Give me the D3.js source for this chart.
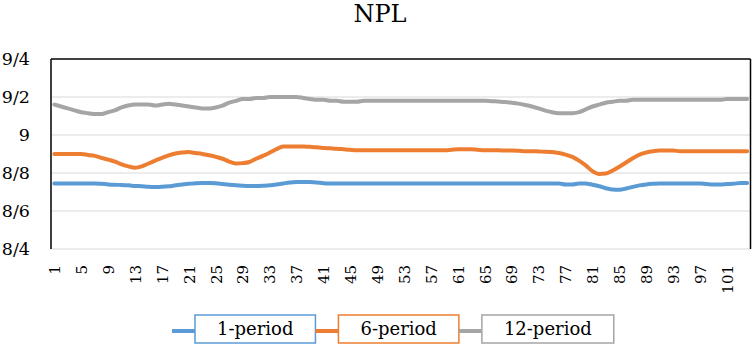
<!DOCTYPE html>
<html>
<head>
<meta charset="utf-8">
<script src="https://cdn.jsdelivr.net/npm/d3@7"></script>
<style>
  html, body { margin: 0; padding: 0; background: #fff; }
  svg { display: block; }
</style>
</head>
<body>
<svg id="chart" width="754" height="346"></svg>
<script>
const title = "NPL";
const seriesNames = ["1-period", "6-period", "12-period"];
const seriesColors = ["#5B9BD5", "#ED7D31", "#A5A5A5"];
const yTicks = [8.4, 8.6, 8.8, 9.0, 9.2, 9.4];
const yTickLabels = ["8/4", "8/6", "8/8", "9", "9/2", "9/4"];

const period1 = [
  8.745, 8.745, 8.745, 8.745, 8.745, 8.745, 8.745, 8.743, 8.740, 8.738,
  8.737, 8.735, 8.732, 8.730, 8.727, 8.726, 8.727, 8.730, 8.735, 8.740,
  8.743, 8.746, 8.747, 8.747, 8.746, 8.742, 8.738, 8.735, 8.733, 8.732,
  8.732, 8.733, 8.735, 8.740, 8.745, 8.750, 8.752, 8.752, 8.752, 8.750,
  8.746, 8.745, 8.745, 8.745, 8.745, 8.745, 8.745, 8.745, 8.745, 8.745,
  8.745, 8.745, 8.745, 8.745, 8.745, 8.745, 8.745, 8.745, 8.745, 8.745,
  8.745, 8.745, 8.745, 8.745, 8.745, 8.745, 8.745, 8.745, 8.745, 8.745,
  8.745, 8.745, 8.745, 8.745, 8.745, 8.745, 8.740, 8.740, 8.745, 8.745,
  8.738, 8.730, 8.720, 8.713, 8.712, 8.718, 8.727, 8.735, 8.740, 8.743,
  8.745, 8.745, 8.745, 8.745, 8.745, 8.745, 8.745, 8.742, 8.740, 8.740,
  8.742, 8.744, 8.747, 8.747
];

const period6 = [
  8.900, 8.900, 8.900, 8.900, 8.900, 8.895, 8.890, 8.880, 8.870, 8.860,
  8.845, 8.835, 8.828, 8.835, 8.850, 8.865, 8.880, 8.893, 8.903, 8.908,
  8.910, 8.905, 8.900, 8.893, 8.885, 8.875, 8.860, 8.850, 8.852, 8.858,
  8.875, 8.890, 8.907, 8.925, 8.940, 8.940, 8.940, 8.940, 8.938, 8.935,
  8.932, 8.930, 8.928, 8.925, 8.922, 8.920, 8.920, 8.920, 8.920, 8.920,
  8.920, 8.920, 8.920, 8.920, 8.920, 8.920, 8.920, 8.920, 8.920, 8.922,
  8.925, 8.925, 8.925, 8.922, 8.920, 8.920, 8.920, 8.918, 8.918, 8.917,
  8.915, 8.915, 8.913, 8.912, 8.910, 8.905, 8.897, 8.885, 8.865, 8.840,
  8.810, 8.795, 8.797, 8.813, 8.833, 8.855, 8.878, 8.897, 8.908, 8.915,
  8.918, 8.918, 8.918, 8.915, 8.915, 8.915, 8.915, 8.915, 8.915, 8.915,
  8.915, 8.915, 8.915, 8.915
];

const period12 = [
  9.160, 9.150, 9.140, 9.130, 9.120, 9.115, 9.110, 9.110, 9.120, 9.130,
  9.145, 9.155, 9.160, 9.160, 9.160, 9.155, 9.160, 9.165, 9.160, 9.155,
  9.150, 9.145, 9.140, 9.140, 9.145, 9.155, 9.170, 9.180, 9.190, 9.190,
  9.195, 9.195, 9.200, 9.200, 9.200, 9.200, 9.200, 9.195, 9.190, 9.185,
  9.185, 9.180, 9.180, 9.175, 9.175, 9.175, 9.180, 9.180, 9.180, 9.180,
  9.180, 9.180, 9.180, 9.180, 9.180, 9.180, 9.180, 9.180, 9.180, 9.180,
  9.180, 9.180, 9.180, 9.180, 9.180, 9.178, 9.176, 9.174, 9.170, 9.165,
  9.158, 9.150, 9.140, 9.128, 9.120, 9.115, 9.115, 9.115, 9.120, 9.135,
  9.150, 9.160, 9.170, 9.175, 9.180, 9.180, 9.185, 9.185, 9.185, 9.185,
  9.185, 9.185, 9.185, 9.185, 9.185, 9.185, 9.185, 9.185, 9.185, 9.185,
  9.190, 9.190, 9.190, 9.190
];

const categories = d3.range(1, period1.length + 1);
const xTickValues = categories.filter(c => (c - 1) % 4 === 0);
const series = [period1, period6, period12];

const svg = d3.select("#chart");
const font = "'DejaVu Serif', 'Liberation Serif', serif";
const plotLeft = 51, plotRight = 750.5, plotTop = 59, plotBottom = 249;

const x = d3.scalePoint().domain(categories).range([plotLeft, plotRight]).padding(0.5);
const y = d3.scaleLinear().domain([8.4, 9.4]).range([plotBottom, plotTop]);

// title
svg.append("text").attr("x", 380).attr("y", 22).attr("text-anchor", "middle")
  .attr("font-family", font).attr("font-size", 24).attr("fill", "#000").text(title);

// gridlines
svg.append("g").selectAll("line").data(yTicks.filter(t => t < 9.39)).join("line")
  .attr("x1", plotLeft).attr("x2", plotRight).attr("y1", d => y(d)).attr("y2", d => y(d))
  .attr("stroke", "#d9d9d9").attr("stroke-width", 1);

// y axis labels
const yAxis = d3.axisLeft(y).tickValues(yTicks).tickSize(0)
  .tickFormat((d, i) => yTickLabels[i]);
const gy = svg.append("g").attr("transform", `translate(${plotLeft},0)`).call(yAxis);
gy.select(".domain").remove();
gy.selectAll("text").attr("x", -21).attr("font-family", font).attr("font-size", 17.5).attr("fill", "#000");

// x axis
const xAxis = d3.axisBottom(x).tickValues(xTickValues).tickSize(0);
const gx = svg.append("g").attr("transform", `translate(0,${plotBottom})`).call(xAxis);
gx.select(".domain").remove();
gx.selectAll("text").attr("transform", "rotate(-90)").attr("x", -16).attr("y", 0)
  .attr("dy", "0.35em").attr("text-anchor", "end")
  .attr("font-family", font).attr("font-size", 15).attr("fill", "#000");

// frame: top, left, right black
svg.append("line").attr("x1", plotLeft).attr("x2", plotRight).attr("y1", plotTop).attr("y2", plotTop)
  .attr("stroke", "#000").attr("stroke-width", 1.5);
svg.append("line").attr("x1", plotLeft).attr("x2", plotLeft).attr("y1", plotTop).attr("y2", plotBottom)
  .attr("stroke", "#000").attr("stroke-width", 1.5);
svg.append("line").attr("x1", plotRight).attr("x2", plotRight).attr("y1", plotTop).attr("y2", plotBottom)
  .attr("stroke", "#000").attr("stroke-width", 1.5);

// lines
const line = d3.line().x((d, i) => x(categories[i])).y(d => y(d)).curve(d3.curveMonotoneX);
svg.append("g").selectAll("path").data(series).join("path")
  .attr("d", d => line(d)).attr("fill", "none")
  .attr("stroke", (d, i) => seriesColors[i]).attr("stroke-width", 4)
  .attr("stroke-linejoin", "round").attr("stroke-linecap", "round");

// legend
const lg = svg.append("g");
let cx = 172;
const ly = 331, boxTop = 315, boxH = 28, pad = 22, sw = 23;
seriesNames.forEach((name, i) => {
  const g = lg.append("g");
  g.append("line").attr("x1", cx).attr("x2", cx + sw).attr("y1", ly).attr("y2", ly)
    .attr("stroke", seriesColors[i]).attr("stroke-width", 4);
  const t = g.append("text").attr("y", boxTop + boxH / 2).attr("dy", "0.35em")
    .attr("text-anchor", "middle").attr("font-family", font).attr("font-size", 18)
    .attr("fill", "#000").text(name);
  const tw = t.node().getComputedTextLength();
  const bw = tw + 2 * pad;
  g.insert("rect", "text").attr("x", cx + sw).attr("y", boxTop).attr("width", bw).attr("height", boxH)
    .attr("fill", "#fff").attr("stroke", seriesColors[i]).attr("stroke-width", 1.5);
  t.attr("x", cx + sw + bw / 2);
  cx += sw + bw;
});
</script>
</body>
</html>
